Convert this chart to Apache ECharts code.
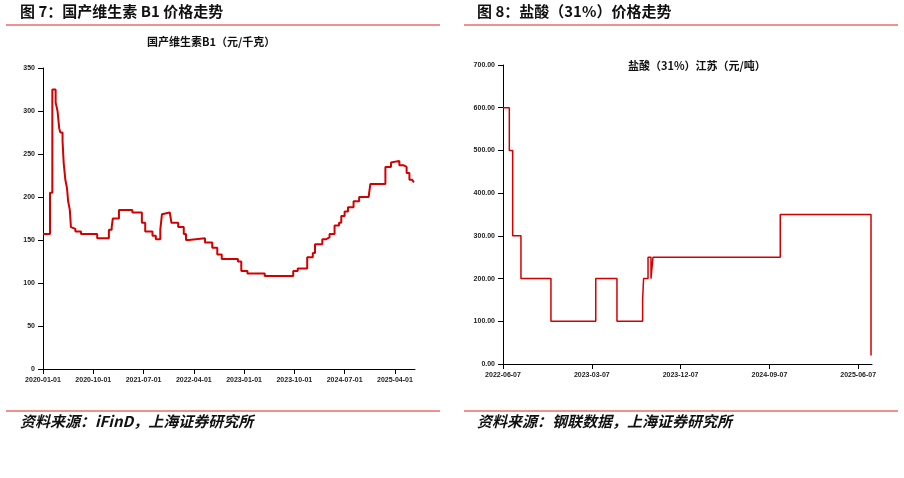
<!DOCTYPE html>
<html><head><meta charset="utf-8">
<script src="https://cdn.jsdelivr.net/npm/echarts@6/dist/echarts.min.js"></script>
<style>html,body{margin:0;padding:0;background:#fff}#c{width:904px;height:478px}</style>
</head><body><div id="c"></div>
<script>
// Left: months since 2020-01-01, value (step change points)
const b1Months = [0,1.25,1.67,2.26,2.6,2.9,3.1,3.5,3.7,4.0,4.3,4.5,4.8,5.0,5.3,5.8,6.8,9.7,11.8,12.3,12.5,13.6,16.0,17.7,18.3,19.6,20.2,21.0,21.3,21.6,22.7,23.0,24.2,25.2,25.6,26.1,29.0,30.3,31.2,32.0,34.9,35.5,36.6,39.7,44.8,45.6,47.3,48.3,48.7,50.0,50.7,51.3,52.2,53.0,53.4,54.0,54.6,55.6,56.6,58.3,58.6,61.3,62.3,62.6,63.8,64.5,65.1,65.6,66.1,66.4];
const b1Values = [157,205,325,310,300,280,275,265,240,220,210,195,185,165,163,160,157,152,162,165,175,185,182,170,160,155,151,162,180,182,180,170,165,157,150,152,147,141,133,128,125,114,111,108,114,117,130,135,145,151,153,157,167,170,178,183,188,195,200,201,215,235,240,242,237,235,228,220,222,217,230];
// Right: months since 2022-06-07
const hclMonths = [0,0.64,0.98,1.82,4.86,9.4,11.55,14.15,14.25,14.7,15.0,15.2,28.1,37.3,37.35];
const hclValues = [600,500,300,200,100,200,100,150,200,250,200,250,350,20,20];
const b1Ticks = ['2020-01-01','2020-10-01','2021-07-01','2022-04-01','2023-01-01','2023-10-01','2024-07-01','2025-04-01'];
const hclTicks = ['2022-06-07','2023-03-07','2023-12-07','2024-09-07','2025-06-07'];

const b1Data = b1Months.map((m,i)=>[m,b1Values[i]]);
const hclData = hclMonths.map((m,i)=>[m,hclValues[i]]);
const red = '#d40000';
const axisX = (ticks,max,grid)=>({type:'value',gridIndex:grid,min:0,max:max,interval:9,
  axisLine:{lineStyle:{color:'#000'}},axisTick:{show:true,lineStyle:{color:'#000'}},splitLine:{show:false},
  axisLabel:{fontSize:7,fontWeight:'bold',color:'#222',showMaxLabel:false,formatter:v=>ticks[Math.round(v/9)]||''}});
const axisY = (max,interval,grid,dec)=>({type:'value',gridIndex:grid,min:0,max:max,interval:interval,
  axisLine:{show:true,lineStyle:{color:'#000'}},axisTick:{show:true,lineStyle:{color:'#000'}},splitLine:{show:false},
  axisLabel:{fontSize:7,fontWeight:'bold',color:'#222',formatter:v=>v.toFixed(dec)}});
const txt=(x,y,t,opt)=>({type:'text',left:x,top:y,style:Object.assign({text:t,fill:'#111',font:'bold 15px "Noto Sans CJK SC"'},opt||{})});
const line=(x1,x2,y)=>({type:'line',shape:{x1:x1,y1:y,x2:x2,y2:y},style:{stroke:'#e52020',lineWidth:1}});
const chart = echarts.init(document.getElementById('c'));
chart.setOption({
  animation:false,
  grid:[{left:43,right:904-415,top:68,bottom:478-369},{left:503,right:904-872,top:65,bottom:478-364}],
  xAxis:[axisX(b1Ticks,66.6,0),axisX(hclTicks,37.4,1)],
  yAxis:[axisY(350,50,0,0),axisY(700,100,1,2)],
  series:[
    {type:'line',xAxisIndex:0,yAxisIndex:0,step:'end',data:b1Data,symbol:'none',lineStyle:{color:red,width:2}},
    {type:'line',xAxisIndex:1,yAxisIndex:1,step:'end',data:hclData,symbol:'none',lineStyle:{color:red,width:1.5}}
  ],
  graphic:[
    txt(20,4,'图 7：国产维生素 B1 价格走势'),
    txt(477,4,'图 8：盐酸（31%）价格走势'),
    line(6,440,25),line(464,898,25),
    line(6,440,411),line(464,898,411),
    txt(147,36,'国产维生素B1（元/千克）',{font:'bold 11px "Noto Sans CJK SC"'}),
    txt(628,60,'盐酸（31%）江苏（元/吨）',{font:'bold 11px "Noto Sans CJK SC"'}),
    txt(20,414,'资料来源：iFinD，上海证券研究所',{font:'italic bold 15px "Noto Sans CJK SC"'}),
    txt(477,414,'资料来源：钢联数据，上海证券研究所',{font:'italic bold 15px "Noto Sans CJK SC"'})
  ]
});
</script></body></html>
